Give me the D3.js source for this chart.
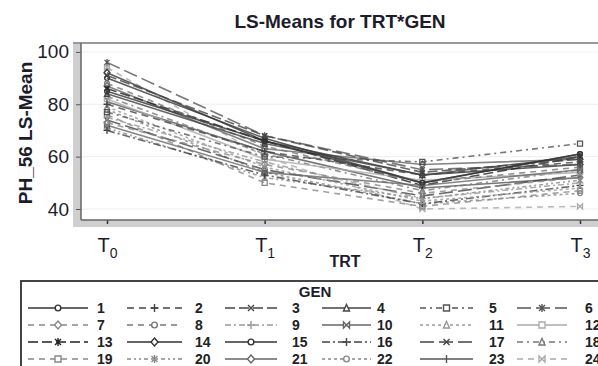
<!DOCTYPE html>
<html><head><meta charset="utf-8">
<script src="https://cdn.jsdelivr.net/npm/d3@7"></script>
<style>body{margin:0;background:#fff}svg{display:block}text{font-family:"Liberation Sans",Arial,sans-serif}</style>
</head><body><svg id="c" width="598" height="366"></svg>
<script>
// ---- data ----
const trtLevels = ["T0","T1","T2","T3"];
const trtMain = ["T","T","T","T"];
const trtSub = ["0","1","2","3"];
const gens = ["1","2","3","4","5","6","7","8","9","10","11","12","13","14","15","16","17","18","19","20","21","22","23","24"];
const valuesT0 = [85,80,91,84,77,96,73,88,75,72,79,82,86,92,90,70,74,83,76,71,87,78,81,94];
const valuesT1 = [66,62,68,65,60,68,57,64,58,54,56,59,66,66,67,53,55,61,50,52,63,54,62,60];
const valuesT2 = [50,53,54,53,58,55,46,50,44,49,43,51,49,53,50,42,45,47,41,44,57,42,48,40];
const valuesT3 = [61,58,59,60,65,57,52,56,50,55,48,54,60,57,61,49,53,55,47,51,59,46,52,41];
const yTicks = [40,60,80,100];

// ---- styles ----
const colors = ["#333","#444","#444","#444","#555","#555","#888","#777","#999","#666","#999","#aaa","#222","#333","#333","#444","#444","#777","#888","#888","#666","#888","#555","#aaa"];
const dashes = ["none","7,5","10,4","none","6,4,2,4","14,5","6,5","6,5","6,3,2,3","none","3,3","none","10,4","none","none","8,3,2,3","14,5","6,4,2,4","6,5","4,3,2,3,2,3","none","3,3","none","6,5"];
const markers = ["circle","plus","x","triangle","square","star","diamond","circle","plus","bowtie","triangle","square","star","diamond","circle","plus","x","triangle","square","star","diamond","circle","tick","bowtie"];

const svg = d3.select("#c");
const L=81, T=43, B=220, R=598;
const x = d3.scalePoint().domain(trtLevels).range([107,580]);
const y = d3.scaleLinear().domain([35.8,103.4]).range([B,T]);

// bands
svg.append("rect").attr("x",73).attr("y",T).attr("width",L-73).attr("height",227-T).attr("fill","#cfcfcf");
svg.append("rect").attr("x",73).attr("y",B).attr("width",R-73).attr("height",7).attr("fill","#cfcfcf");
// grid
svg.append("g").selectAll("line").data(yTicks).join("line")
  .attr("x1",L).attr("x2",R).attr("y1",d=>y(d)).attr("y2",d=>y(d)).attr("stroke","#eee").attr("stroke-width",1);

// y axis
const ya = svg.append("g").attr("transform",`translate(${L},0)`).call(d3.axisLeft(y).tickValues(yTicks).tickSize(5).tickPadding(7));
ya.select(".domain").remove();
ya.selectAll(".tick line").attr("stroke","#555");
ya.selectAll(".tick text").attr("font-size",19).attr("fill","#1c1c2a").attr("font-family","Liberation Sans, Arial, sans-serif");
// x axis
const xa = svg.append("g").attr("transform",`translate(0,${B})`).call(d3.axisBottom(x).tickSize(4).tickFormat(""));
xa.select(".domain").remove();
xa.selectAll(".tick line").attr("stroke","#333").attr("stroke-width",1.5);
xa.selectAll(".tick").each(function(d,i){
  const t = d3.select(this).append("text").attr("y",32).attr("text-anchor","middle").attr("fill","#1c1c2a").attr("font-size",20);
  t.append("tspan").text(trtMain[i]);
  t.append("tspan").attr("font-size",14).attr("dy",6).text(trtSub[i]);
});
// frame
svg.append("line").attr("x1",73).attr("x2",R).attr("y1",T).attr("y2",T).attr("stroke","#999").attr("stroke-width",2);
svg.append("line").attr("x1",L).attr("x2",L).attr("y1",T).attr("y2",B).attr("stroke","#666").attr("stroke-width",1.5);
svg.append("line").attr("x1",L).attr("x2",R).attr("y1",B).attr("y2",B).attr("stroke","#666").attr("stroke-width",1.5);

// marker path
function markerPath(type, s){
  const h=s/2;
  switch(type){
    case "circle": return d3.symbol(d3.symbolCircle, s*s*0.7)();
    case "square": return `M${-h},${-h}H${h}V${h}H${-h}Z`;
    case "triangle": return `M0,${-h-0.5}L${h},${h}L${-h},${h}Z`;
    case "diamond": return `M0,${-h-1}L${h+0.5},0L0,${h+1}L${-h-0.5},0Z`;
    case "plus": return `M${-h-1},0H${h+1}M0,${-h-1}V${h+1}`;
    case "tick": return `M0,${-h-1}V${h+1}`;
    case "x": return `M${-h},${-h}L${h},${h}M${-h},${h}L${h},${-h}`;
    case "star": return `M${-h},${-h}L${h},${h}M${-h},${h}L${h},${-h}M0,${-h-1}V${h+1}`;
    case "bowtie": return `M${-h},${-h}L${h},${h}V${-h}L${-h},${h}Z`;
  }
}

const series = gens.map((g,i)=>({gen:g,i,vals:[valuesT0[i],valuesT1[i],valuesT2[i],valuesT3[i]]}));
const line = d3.line().x((d,j)=>x(trtLevels[j])).y(d=>y(d));
const plot = svg.append("g");
series.slice().reverse().forEach(s=>{
  plot.append("path").attr("d",line(s.vals)).attr("fill","none").attr("stroke",colors[s.i])
    .attr("stroke-width",1.6).attr("stroke-dasharray",dashes[s.i]).attr("stroke-opacity",0.8);
  s.vals.forEach((v,j)=>{
    plot.append("path").attr("d",markerPath(markers[s.i],5)).attr("transform",`translate(${x(trtLevels[j])},${y(v)})`)
      .attr("fill","none").attr("stroke",colors[s.i]).attr("stroke-width",1.3);
  });
});

// titles
svg.append("text").attr("x",340).attr("y",28).attr("text-anchor","middle").attr("font-size",19).attr("font-weight","bold").attr("fill","#1c1c2a").text("LS-Means for TRT*GEN");
svg.append("text").attr("transform","translate(32,133) rotate(-90)").attr("text-anchor","middle").attr("font-size",19).attr("font-weight","bold").attr("fill","#1c1c2a").text("PH_56 LS-Mean");
svg.append("text").attr("x",345).attr("y",267).attr("text-anchor","middle").attr("font-size",16).attr("font-weight","bold").attr("fill","#1c1c2a").text("TRT");

// legend
svg.append("line").attr("x1",21).attr("x2",R).attr("y1",281).attr("y2",281).attr("stroke","#444").attr("stroke-width",2);
svg.append("line").attr("x1",21).attr("x2",21).attr("y1",280).attr("y2",366).attr("stroke","#444").attr("stroke-width",2);
svg.append("text").attr("x",315).attr("y",297).attr("text-anchor","middle").attr("font-size",15).attr("font-weight","bold").attr("fill","#1c1c2a").text("GEN");
const colStart=[28,127,225,322,420,517], colEnd=[88,182,277,371,473,567], colLabel=[97,195,292,377,489,585], rowY=[308,325,342,359];
const lg = svg.append("g");
series.forEach(s=>{
  const c=s.i%6, r=Math.floor(s.i/6);
  const x0=colStart[c], x1=colEnd[c], yy=rowY[r];
  lg.append("line").attr("x1",x0).attr("x2",x1).attr("y1",yy).attr("y2",yy).attr("stroke",colors[s.i]).attr("stroke-width",1.6).attr("stroke-dasharray",dashes[s.i]);
  lg.append("path").attr("d",markerPath(markers[s.i],6)).attr("transform",`translate(${(x0+x1)/2},${yy})`).attr("fill","#fff").attr("stroke",colors[s.i]).attr("stroke-width",1.4);
  lg.append("text").attr("x",colLabel[c]).attr("y",yy+5).attr("font-size",14).attr("font-weight","bold").attr("fill","#222").text(s.gen);
});
</script></body></html>
